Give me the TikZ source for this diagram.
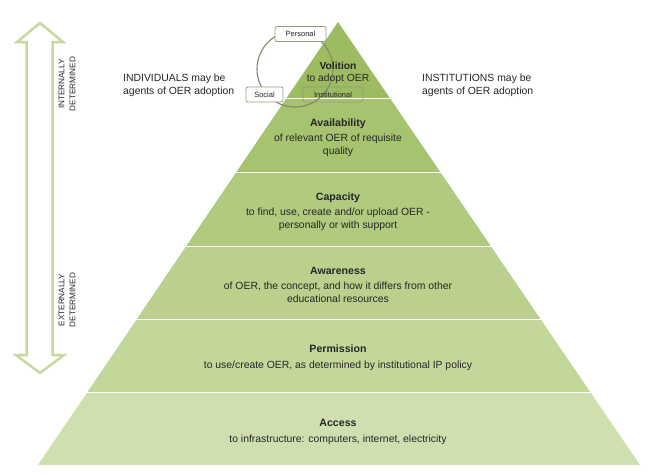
\documentclass[tikz,border=0pt]{standalone}
\usepackage{fontspec}
\setmainfont{Liberation Sans}
\begin{document}
\begin{tikzpicture}[x=1pt,y=-1pt,
  bandtext/.style={align=center,font=\fontsize{10.4}{13.5}\selectfont,text=black!85,inner sep=0pt},
  sidetext/.style={align=left,font=\fontsize{10.4}{13}\selectfont,text=black!85,anchor=west,inner sep=0pt},
  rottext/.style={align=center,font=\fontsize{8.2}{11}\selectfont,text=black!85,rotate=90,inner sep=0pt},
  tagbox/.style={draw=tagc,rounded corners=2pt,line width=0.8pt,minimum height=15pt,inner sep=1pt,font=\fontsize{7.5}{9}\selectfont,text=black!85},
  arrowline/.style={draw=arrowc,line width=2.5pt,line join=miter}
]
\definecolor{cVol}{HTML}{9DBB61}
\definecolor{cAva}{HTML}{A6C46F}
\definecolor{cCap}{HTML}{B0CA7E}
\definecolor{cAwa}{HTML}{BAD08C}
\definecolor{cPer}{HTML}{C4D79B}
\definecolor{cAcc}{HTML}{CFDFAF}
\definecolor{tagc}{HTML}{9A9A80}
\definecolor{circc}{HTML}{85866A}
\definecolor{arrowc}{HTML}{C6D9A0}
\newcommand{\ttl}[1]{{\fontsize{10.6}{13.5}\selectfont\textbf{#1}}}
\useasboundingbox (0,0) rectangle (666,475);
\fill[white] (0,0) rectangle (666,475);
% pyramid
\coordinate (A) at (338,22);
\coordinate (BL) at (38,465);
\coordinate (BR) at (640,465);
\foreach \ya/\yb/\c in {0/97/cVol,99/171/cAva,173/245/cCap,247/318/cAwa,320/391/cPer,393/465/cAcc}{
  \begin{scope}
    \clip (0,\ya) rectangle (666,\yb);
    \fill[\c] (A) -- (BL) -- (BR) -- cycle;
  \end{scope}
}
% double arrow
\draw[arrowline] (40,23) -- (63,42) -- (52.5,42) -- (52.5,355) -- (64,355) -- (40,373) -- (16,355) -- (26.5,355) -- (26.5,42) -- (17,42) -- cycle;
\node[rottext] (intl) at (67,84) {INTERNALLY\\DETERMINED};
\node[rottext] (extl) at (67,300) {EXTERNALLY\\DETERMINED};
% circle
\draw[circc,line width=1.1pt] (295,69) circle (38);
\node[tagbox,fill=white,minimum width=51pt] (pers) at (300.5,34) {Personal};
\node[tagbox,fill=white,minimum width=37pt] (soc) at (264.5,94.5) {Social};
\node[tagbox,minimum width=60pt] (inst) at (333,94.5) {Institutional};
% side texts
\node[sidetext] (indiv) at (123,85.5) {INDIVIDUALS may be\\agents of OER adoption};
\node[sidetext] (insti) at (422,85.5) {INSTITUTIONS may be\\agents of OER adoption};
% band texts
\node[bandtext,font=\fontsize{10.3}{12}\selectfont] (vol) at (338,73) {\textbf{Volition}\\to adopt OER};
\node[bandtext] (ava) at (338,138) {\ttl{Availability}\\[1pt]of relevant OER of requisite\\quality};
\node[bandtext] (cap) at (338,212) {\ttl{Capacity}\\[1pt]to find, use, create and/or upload OER -\\personally or with support};
\node[bandtext] (awa) at (338,285) {\ttl{Awareness}\\[1pt]of OER, the concept, and how it differs from other\\educational resources};
\node[bandtext] (perm) at (338,357.5) {\ttl{Permission}\\[2pt]to use/create OER, as determined by institutional IP policy};
\node[bandtext] (acc) at (338,432) {\ttl{Access}\\[2pt]to infrastructure: computers, internet, electricity};
\end{tikzpicture}
\end{document}
